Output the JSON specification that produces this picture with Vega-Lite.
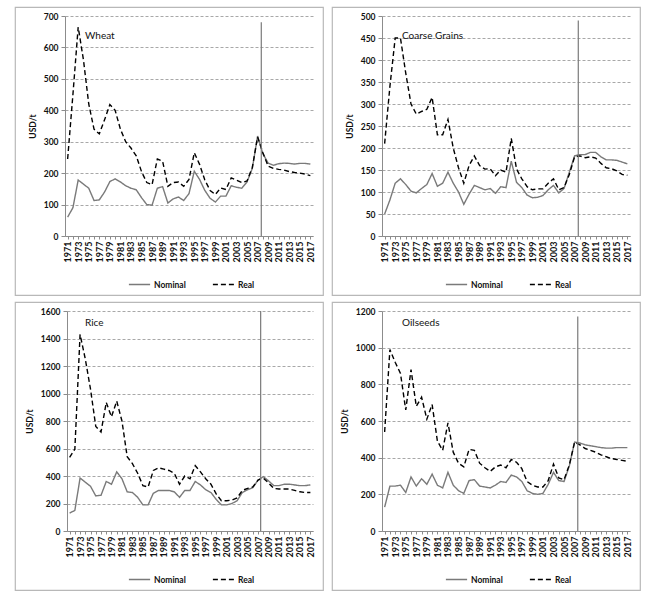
{
  "$schema": "https://vega.github.io/schema/vega-lite/v6.json",
  "padding": {"left": 14, "top": 6, "right": 4, "bottom": 4},
  "columns": 2,
  "spacing": {"row": 5, "column": 7},
  "resolve": {"scale": {"color": "independent", "strokeDash": "independent"}},
  "datasets": {
    "markers": [
      {"crop": "Wheat", "year": 2007.7, "lo": 0, "hi": 680},
      {"crop": "Coarse Grains", "year": 2007.7, "lo": 0, "hi": 490},
      {"crop": "Rice", "year": 2007.5, "lo": 0, "hi": 1600},
      {"crop": "Oilseeds", "year": 2007.6, "lo": 0, "hi": 1170}
    ],
    "prices": [
      {"crop": "Wheat", "year": 1971, "Nominal": 60, "Real": 245},
      {"crop": "Wheat", "year": 1972, "Nominal": 90, "Real": 450},
      {"crop": "Wheat", "year": 1973, "Nominal": 178, "Real": 665},
      {"crop": "Wheat", "year": 1974, "Nominal": 165, "Real": 560},
      {"crop": "Wheat", "year": 1975, "Nominal": 152, "Real": 420},
      {"crop": "Wheat", "year": 1976, "Nominal": 113, "Real": 340},
      {"crop": "Wheat", "year": 1977, "Nominal": 115, "Real": 325},
      {"crop": "Wheat", "year": 1978, "Nominal": 140, "Real": 370},
      {"crop": "Wheat", "year": 1979, "Nominal": 173, "Real": 418},
      {"crop": "Wheat", "year": 1980, "Nominal": 182, "Real": 400},
      {"crop": "Wheat", "year": 1981, "Nominal": 172, "Real": 340},
      {"crop": "Wheat", "year": 1982, "Nominal": 160, "Real": 300},
      {"crop": "Wheat", "year": 1983, "Nominal": 152, "Real": 280},
      {"crop": "Wheat", "year": 1984, "Nominal": 147, "Real": 255},
      {"crop": "Wheat", "year": 1985, "Nominal": 122, "Real": 205},
      {"crop": "Wheat", "year": 1986, "Nominal": 100, "Real": 170},
      {"crop": "Wheat", "year": 1987, "Nominal": 98, "Real": 163},
      {"crop": "Wheat", "year": 1988, "Nominal": 152, "Real": 245},
      {"crop": "Wheat", "year": 1989, "Nominal": 157, "Real": 238},
      {"crop": "Wheat", "year": 1990, "Nominal": 105, "Real": 158},
      {"crop": "Wheat", "year": 1991, "Nominal": 118, "Real": 170},
      {"crop": "Wheat", "year": 1992, "Nominal": 124, "Real": 172},
      {"crop": "Wheat", "year": 1993, "Nominal": 113, "Real": 158},
      {"crop": "Wheat", "year": 1994, "Nominal": 135, "Real": 180},
      {"crop": "Wheat", "year": 1995, "Nominal": 206, "Real": 265},
      {"crop": "Wheat", "year": 1996, "Nominal": 180, "Real": 228},
      {"crop": "Wheat", "year": 1997, "Nominal": 145, "Real": 178},
      {"crop": "Wheat", "year": 1998, "Nominal": 120, "Real": 145},
      {"crop": "Wheat", "year": 1999, "Nominal": 108, "Real": 132},
      {"crop": "Wheat", "year": 2000, "Nominal": 127, "Real": 153},
      {"crop": "Wheat", "year": 2001, "Nominal": 127, "Real": 148},
      {"crop": "Wheat", "year": 2002, "Nominal": 160, "Real": 185},
      {"crop": "Wheat", "year": 2003, "Nominal": 155, "Real": 178},
      {"crop": "Wheat", "year": 2004, "Nominal": 152, "Real": 170},
      {"crop": "Wheat", "year": 2005, "Nominal": 172, "Real": 175},
      {"crop": "Wheat", "year": 2006, "Nominal": 215, "Real": 218},
      {"crop": "Wheat", "year": 2007, "Nominal": 318, "Real": 315},
      {"crop": "Wheat", "year": 2008, "Nominal": 262, "Real": 265},
      {"crop": "Wheat", "year": 2009, "Nominal": 232, "Real": 222},
      {"crop": "Wheat", "year": 2010, "Nominal": 225, "Real": 215},
      {"crop": "Wheat", "year": 2011, "Nominal": 230, "Real": 212},
      {"crop": "Wheat", "year": 2012, "Nominal": 232, "Real": 210},
      {"crop": "Wheat", "year": 2013, "Nominal": 231, "Real": 205},
      {"crop": "Wheat", "year": 2014, "Nominal": 229, "Real": 202},
      {"crop": "Wheat", "year": 2015, "Nominal": 231, "Real": 200},
      {"crop": "Wheat", "year": 2016, "Nominal": 231, "Real": 197},
      {"crop": "Wheat", "year": 2017, "Nominal": 229, "Real": 192},
      {"crop": "Coarse Grains", "year": 1971, "Nominal": 50, "Real": 210},
      {"crop": "Coarse Grains", "year": 1972, "Nominal": 82, "Real": 340},
      {"crop": "Coarse Grains", "year": 1973, "Nominal": 120, "Real": 450},
      {"crop": "Coarse Grains", "year": 1974, "Nominal": 130, "Real": 450},
      {"crop": "Coarse Grains", "year": 1975, "Nominal": 117, "Real": 370},
      {"crop": "Coarse Grains", "year": 1976, "Nominal": 102, "Real": 300},
      {"crop": "Coarse Grains", "year": 1977, "Nominal": 98, "Real": 277},
      {"crop": "Coarse Grains", "year": 1978, "Nominal": 108, "Real": 283},
      {"crop": "Coarse Grains", "year": 1979, "Nominal": 117, "Real": 288},
      {"crop": "Coarse Grains", "year": 1980, "Nominal": 142, "Real": 315},
      {"crop": "Coarse Grains", "year": 1981, "Nominal": 113, "Real": 230},
      {"crop": "Coarse Grains", "year": 1982, "Nominal": 120, "Real": 230},
      {"crop": "Coarse Grains", "year": 1983, "Nominal": 145, "Real": 265},
      {"crop": "Coarse Grains", "year": 1984, "Nominal": 120, "Real": 200},
      {"crop": "Coarse Grains", "year": 1985, "Nominal": 100, "Real": 155},
      {"crop": "Coarse Grains", "year": 1986, "Nominal": 72, "Real": 120},
      {"crop": "Coarse Grains", "year": 1987, "Nominal": 95, "Real": 160},
      {"crop": "Coarse Grains", "year": 1988, "Nominal": 115, "Real": 182},
      {"crop": "Coarse Grains", "year": 1989, "Nominal": 110, "Real": 160},
      {"crop": "Coarse Grains", "year": 1990, "Nominal": 105, "Real": 152},
      {"crop": "Coarse Grains", "year": 1991, "Nominal": 108, "Real": 153},
      {"crop": "Coarse Grains", "year": 1992, "Nominal": 97, "Real": 137},
      {"crop": "Coarse Grains", "year": 1993, "Nominal": 112, "Real": 150},
      {"crop": "Coarse Grains", "year": 1994, "Nominal": 110, "Real": 145},
      {"crop": "Coarse Grains", "year": 1995, "Nominal": 170, "Real": 222},
      {"crop": "Coarse Grains", "year": 1996, "Nominal": 122, "Real": 152},
      {"crop": "Coarse Grains", "year": 1997, "Nominal": 110, "Real": 130},
      {"crop": "Coarse Grains", "year": 1998, "Nominal": 93, "Real": 112},
      {"crop": "Coarse Grains", "year": 1999, "Nominal": 87, "Real": 105},
      {"crop": "Coarse Grains", "year": 2000, "Nominal": 88, "Real": 107},
      {"crop": "Coarse Grains", "year": 2001, "Nominal": 92, "Real": 107},
      {"crop": "Coarse Grains", "year": 2002, "Nominal": 105, "Real": 120},
      {"crop": "Coarse Grains", "year": 2003, "Nominal": 115, "Real": 130},
      {"crop": "Coarse Grains", "year": 2004, "Nominal": 98, "Real": 105},
      {"crop": "Coarse Grains", "year": 2005, "Nominal": 108, "Real": 110},
      {"crop": "Coarse Grains", "year": 2006, "Nominal": 145, "Real": 140},
      {"crop": "Coarse Grains", "year": 2007, "Nominal": 182, "Real": 180},
      {"crop": "Coarse Grains", "year": 2008, "Nominal": 185, "Real": 182},
      {"crop": "Coarse Grains", "year": 2009, "Nominal": 185, "Real": 178},
      {"crop": "Coarse Grains", "year": 2010, "Nominal": 190, "Real": 180},
      {"crop": "Coarse Grains", "year": 2011, "Nominal": 190, "Real": 177},
      {"crop": "Coarse Grains", "year": 2012, "Nominal": 180, "Real": 165},
      {"crop": "Coarse Grains", "year": 2013, "Nominal": 173, "Real": 155},
      {"crop": "Coarse Grains", "year": 2014, "Nominal": 173, "Real": 153},
      {"crop": "Coarse Grains", "year": 2015, "Nominal": 172, "Real": 148},
      {"crop": "Coarse Grains", "year": 2016, "Nominal": 168, "Real": 140},
      {"crop": "Coarse Grains", "year": 2017, "Nominal": 164, "Real": 138},
      {"crop": "Rice", "year": 1971, "Nominal": 130, "Real": 535},
      {"crop": "Rice", "year": 1972, "Nominal": 150, "Real": 595},
      {"crop": "Rice", "year": 1973, "Nominal": 385, "Real": 1430},
      {"crop": "Rice", "year": 1974, "Nominal": 355, "Real": 1250},
      {"crop": "Rice", "year": 1975, "Nominal": 325, "Real": 1030},
      {"crop": "Rice", "year": 1976, "Nominal": 255, "Real": 760},
      {"crop": "Rice", "year": 1977, "Nominal": 260, "Real": 720},
      {"crop": "Rice", "year": 1978, "Nominal": 360, "Real": 935},
      {"crop": "Rice", "year": 1979, "Nominal": 340, "Real": 830},
      {"crop": "Rice", "year": 1980, "Nominal": 430, "Real": 945},
      {"crop": "Rice", "year": 1981, "Nominal": 380, "Real": 800},
      {"crop": "Rice", "year": 1982, "Nominal": 285, "Real": 540},
      {"crop": "Rice", "year": 1983, "Nominal": 280, "Real": 490},
      {"crop": "Rice", "year": 1984, "Nominal": 245, "Real": 420},
      {"crop": "Rice", "year": 1985, "Nominal": 190, "Real": 330},
      {"crop": "Rice", "year": 1986, "Nominal": 190, "Real": 320},
      {"crop": "Rice", "year": 1987, "Nominal": 275, "Real": 440},
      {"crop": "Rice", "year": 1988, "Nominal": 295, "Real": 460},
      {"crop": "Rice", "year": 1989, "Nominal": 295, "Real": 450},
      {"crop": "Rice", "year": 1990, "Nominal": 295, "Real": 440},
      {"crop": "Rice", "year": 1991, "Nominal": 285, "Real": 420},
      {"crop": "Rice", "year": 1992, "Nominal": 245, "Real": 340},
      {"crop": "Rice", "year": 1993, "Nominal": 295, "Real": 400},
      {"crop": "Rice", "year": 1994, "Nominal": 295, "Real": 380},
      {"crop": "Rice", "year": 1995, "Nominal": 360, "Real": 475},
      {"crop": "Rice", "year": 1996, "Nominal": 335, "Real": 430},
      {"crop": "Rice", "year": 1997, "Nominal": 300, "Real": 380},
      {"crop": "Rice", "year": 1998, "Nominal": 280, "Real": 340},
      {"crop": "Rice", "year": 1999, "Nominal": 230, "Real": 270},
      {"crop": "Rice", "year": 2000, "Nominal": 190, "Real": 220},
      {"crop": "Rice", "year": 2001, "Nominal": 190, "Real": 220},
      {"crop": "Rice", "year": 2002, "Nominal": 200, "Real": 225},
      {"crop": "Rice", "year": 2003, "Nominal": 220, "Real": 240},
      {"crop": "Rice", "year": 2004, "Nominal": 280, "Real": 295},
      {"crop": "Rice", "year": 2005, "Nominal": 300, "Real": 310},
      {"crop": "Rice", "year": 2006, "Nominal": 315, "Real": 320},
      {"crop": "Rice", "year": 2007, "Nominal": 370, "Real": 370},
      {"crop": "Rice", "year": 2008, "Nominal": 395, "Real": 385},
      {"crop": "Rice", "year": 2009, "Nominal": 365, "Real": 350},
      {"crop": "Rice", "year": 2010, "Nominal": 330, "Real": 310},
      {"crop": "Rice", "year": 2011, "Nominal": 330, "Real": 305},
      {"crop": "Rice", "year": 2012, "Nominal": 340, "Real": 305},
      {"crop": "Rice", "year": 2013, "Nominal": 340, "Real": 305},
      {"crop": "Rice", "year": 2014, "Nominal": 335, "Real": 295},
      {"crop": "Rice", "year": 2015, "Nominal": 330, "Real": 285},
      {"crop": "Rice", "year": 2016, "Nominal": 330, "Real": 280},
      {"crop": "Rice", "year": 2017, "Nominal": 335, "Real": 280},
      {"crop": "Oilseeds", "year": 1971, "Nominal": 130, "Real": 540},
      {"crop": "Oilseeds", "year": 1972, "Nominal": 245, "Real": 990},
      {"crop": "Oilseeds", "year": 1973, "Nominal": 245, "Real": 920},
      {"crop": "Oilseeds", "year": 1974, "Nominal": 250, "Real": 860},
      {"crop": "Oilseeds", "year": 1975, "Nominal": 210, "Real": 660},
      {"crop": "Oilseeds", "year": 1976, "Nominal": 295, "Real": 880},
      {"crop": "Oilseeds", "year": 1977, "Nominal": 245, "Real": 680},
      {"crop": "Oilseeds", "year": 1978, "Nominal": 285, "Real": 730},
      {"crop": "Oilseeds", "year": 1979, "Nominal": 255, "Real": 610},
      {"crop": "Oilseeds", "year": 1980, "Nominal": 310, "Real": 690},
      {"crop": "Oilseeds", "year": 1981, "Nominal": 250, "Real": 490},
      {"crop": "Oilseeds", "year": 1982, "Nominal": 235, "Real": 440},
      {"crop": "Oilseeds", "year": 1983, "Nominal": 320, "Real": 590},
      {"crop": "Oilseeds", "year": 1984, "Nominal": 250, "Real": 430},
      {"crop": "Oilseeds", "year": 1985, "Nominal": 220, "Real": 370},
      {"crop": "Oilseeds", "year": 1986, "Nominal": 205, "Real": 350},
      {"crop": "Oilseeds", "year": 1987, "Nominal": 275, "Real": 445},
      {"crop": "Oilseeds", "year": 1988, "Nominal": 280, "Real": 440},
      {"crop": "Oilseeds", "year": 1989, "Nominal": 245, "Real": 370},
      {"crop": "Oilseeds", "year": 1990, "Nominal": 240, "Real": 345},
      {"crop": "Oilseeds", "year": 1991, "Nominal": 235, "Real": 325},
      {"crop": "Oilseeds", "year": 1992, "Nominal": 250, "Real": 350},
      {"crop": "Oilseeds", "year": 1993, "Nominal": 270, "Real": 360},
      {"crop": "Oilseeds", "year": 1994, "Nominal": 265, "Real": 345},
      {"crop": "Oilseeds", "year": 1995, "Nominal": 305, "Real": 390},
      {"crop": "Oilseeds", "year": 1996, "Nominal": 295, "Real": 375},
      {"crop": "Oilseeds", "year": 1997, "Nominal": 270, "Real": 340},
      {"crop": "Oilseeds", "year": 1998, "Nominal": 220, "Real": 270},
      {"crop": "Oilseeds", "year": 1999, "Nominal": 205, "Real": 250},
      {"crop": "Oilseeds", "year": 2000, "Nominal": 200, "Real": 240},
      {"crop": "Oilseeds", "year": 2001, "Nominal": 205, "Real": 240},
      {"crop": "Oilseeds", "year": 2002, "Nominal": 255, "Real": 275},
      {"crop": "Oilseeds", "year": 2003, "Nominal": 320, "Real": 365},
      {"crop": "Oilseeds", "year": 2004, "Nominal": 275, "Real": 290},
      {"crop": "Oilseeds", "year": 2005, "Nominal": 270, "Real": 280},
      {"crop": "Oilseeds", "year": 2006, "Nominal": 355, "Real": 360},
      {"crop": "Oilseeds", "year": 2007, "Nominal": 485, "Real": 485},
      {"crop": "Oilseeds", "year": 2008, "Nominal": 480, "Real": 470},
      {"crop": "Oilseeds", "year": 2009, "Nominal": 470, "Real": 450},
      {"crop": "Oilseeds", "year": 2010, "Nominal": 465, "Real": 440},
      {"crop": "Oilseeds", "year": 2011, "Nominal": 460, "Real": 430},
      {"crop": "Oilseeds", "year": 2012, "Nominal": 455, "Real": 415},
      {"crop": "Oilseeds", "year": 2013, "Nominal": 452, "Real": 405},
      {"crop": "Oilseeds", "year": 2014, "Nominal": 452, "Real": 395},
      {"crop": "Oilseeds", "year": 2015, "Nominal": 455, "Real": 390},
      {"crop": "Oilseeds", "year": 2016, "Nominal": 455, "Real": 385},
      {"crop": "Oilseeds", "year": 2017, "Nominal": 455, "Real": 380}
    ]
  },
  "concat": [
    {
      "width": 308, "height": 288,
      "title": {"text": "Wheat", "dy": 38},
      "layer": [
        {
          "data": {"name": "prices"},
          "transform": [{"filter": "datum.crop == 'Wheat'"}, {"fold": ["Nominal", "Real"], "as": ["series", "value"]}],
          "mark": {"type": "line", "strokeWidth": 1.4},
          "encoding": {
            "x": {"field": "year", "type": "quantitative", "title": null, "scale": {"domain": [1970.5, 2017.5], "range": [50, 298], "nice": false, "zero": false},
                  "axis": {"offset": -59, "tickCount": 100, "labelOverlap": false, "values": [1971,1972,1973,1974,1975,1976,1977,1978,1979,1980,1981,1982,1983,1984,1985,1986,1987,1988,1989,1990,1991,1992,1993,1994,1995,1996,1997,1998,1999,2000,2001,2002,2003,2004,2005,2006,2007,2008,2009,2010,2011,2012,2013,2014,2015,2016,2017]}},
            "y": {"field": "value", "type": "quantitative", "title": "USD/t", "scale": {"domain": [0, 700], "range": [229, 9], "nice": false},
                  "axis": {"offset": -50, "tickCount": 100, "labelOverlap": false, "values": [0,100,200,300,400,500,600,700]}},
            "color": {"field": "series", "type": "nominal", "scale": {"domain": ["Nominal", "Real"], "range": ["#7a7a7a", "#000000"]},
                      "legend": {"title": null, "orient": "none", "legendX": 113, "legendY": 266, "direction": "horizontal"}},
            "strokeDash": {"field": "series", "type": "nominal", "scale": {"domain": ["Nominal", "Real"], "range": [[1, 0], [5, 3]]},
                      "legend": {"title": null, "orient": "none", "legendX": 113, "legendY": 266, "direction": "horizontal"}}
          }
        },
        {
          "data": {"name": "markers"},
          "transform": [{"filter": "datum.crop == 'Wheat'"}],
          "mark": {"type": "rule", "color": "#7a7a7a", "strokeWidth": 1.2},
          "encoding": {
            "x": {"field": "year", "type": "quantitative", "title": null},
            "y": {"field": "lo", "type": "quantitative", "title": "USD/t"},
            "y2": {"field": "hi"}
          }
        }
      ]
    },
    {
      "width": 308, "height": 288,
      "title": {"text": "Coarse Grains", "dy": 38},
      "layer": [
        {
          "data": {"name": "prices"},
          "transform": [{"filter": "datum.crop == 'Coarse Grains'"}, {"fold": ["Nominal", "Real"], "as": ["series", "value"]}],
          "mark": {"type": "line", "strokeWidth": 1.4},
          "encoding": {
            "x": {"field": "year", "type": "quantitative", "title": null, "scale": {"domain": [1970.5, 2017.5], "range": [50, 298], "nice": false, "zero": false},
                  "axis": {"offset": -59, "tickCount": 100, "labelOverlap": false, "values": [1971,1972,1973,1974,1975,1976,1977,1978,1979,1980,1981,1982,1983,1984,1985,1986,1987,1988,1989,1990,1991,1992,1993,1994,1995,1996,1997,1998,1999,2000,2001,2002,2003,2004,2005,2006,2007,2008,2009,2010,2011,2012,2013,2014,2015,2016,2017]}},
            "y": {"field": "value", "type": "quantitative", "title": "USD/t", "scale": {"domain": [0, 500], "range": [229, 9], "nice": false},
                  "axis": {"offset": -50, "tickCount": 100, "labelOverlap": false, "values": [0,50,100,150,200,250,300,350,400,450,500]}},
            "color": {"field": "series", "type": "nominal", "scale": {"domain": ["Nominal", "Real"], "range": ["#7a7a7a", "#000000"]},
                      "legend": {"title": null, "orient": "none", "legendX": 113, "legendY": 266, "direction": "horizontal"}},
            "strokeDash": {"field": "series", "type": "nominal", "scale": {"domain": ["Nominal", "Real"], "range": [[1, 0], [5, 3]]},
                      "legend": {"title": null, "orient": "none", "legendX": 113, "legendY": 266, "direction": "horizontal"}}
          }
        },
        {
          "data": {"name": "markers"},
          "transform": [{"filter": "datum.crop == 'Coarse Grains'"}],
          "mark": {"type": "rule", "color": "#7a7a7a", "strokeWidth": 1.2},
          "encoding": {
            "x": {"field": "year", "type": "quantitative", "title": null},
            "y": {"field": "lo", "type": "quantitative", "title": "USD/t"},
            "y2": {"field": "hi"}
          }
        }
      ]
    },
    {
      "width": 308, "height": 288,
      "title": {"text": "Rice", "dy": 30},
      "layer": [
        {
          "data": {"name": "prices"},
          "transform": [{"filter": "datum.crop == 'Rice'"}, {"fold": ["Nominal", "Real"], "as": ["series", "value"]}],
          "mark": {"type": "line", "strokeWidth": 1.4},
          "encoding": {
            "x": {"field": "year", "type": "quantitative", "title": null, "scale": {"domain": [1970.5, 2017.5], "range": [52, 298], "nice": false, "zero": false},
                  "axis": {"offset": -59, "tickCount": 100, "labelOverlap": false, "values": [1971,1972,1973,1974,1975,1976,1977,1978,1979,1980,1981,1982,1983,1984,1985,1986,1987,1988,1989,1990,1991,1992,1993,1994,1995,1996,1997,1998,1999,2000,2001,2002,2003,2004,2005,2006,2007,2008,2009,2010,2011,2012,2013,2014,2015,2016,2017]}},
            "y": {"field": "value", "type": "quantitative", "title": "USD/t", "scale": {"domain": [0, 1600], "range": [229, 9], "nice": false},
                  "axis": {"offset": -52, "tickCount": 100, "labelOverlap": false, "values": [0,200,400,600,800,1000,1200,1400,1600]}},
            "color": {"field": "series", "type": "nominal", "scale": {"domain": ["Nominal", "Real"], "range": ["#7a7a7a", "#000000"]},
                      "legend": {"title": null, "orient": "none", "legendX": 113, "legendY": 266, "direction": "horizontal"}},
            "strokeDash": {"field": "series", "type": "nominal", "scale": {"domain": ["Nominal", "Real"], "range": [[1, 0], [5, 3]]},
                      "legend": {"title": null, "orient": "none", "legendX": 113, "legendY": 266, "direction": "horizontal"}}
          }
        },
        {
          "data": {"name": "markers"},
          "transform": [{"filter": "datum.crop == 'Rice'"}],
          "mark": {"type": "rule", "color": "#7a7a7a", "strokeWidth": 1.2},
          "encoding": {
            "x": {"field": "year", "type": "quantitative", "title": null},
            "y": {"field": "lo", "type": "quantitative", "title": "USD/t"},
            "y2": {"field": "hi"}
          }
        }
      ]
    },
    {
      "width": 308, "height": 288,
      "title": {"text": "Oilseeds", "dy": 30},
      "layer": [
        {
          "data": {"name": "prices"},
          "transform": [{"filter": "datum.crop == 'Oilseeds'"}, {"fold": ["Nominal", "Real"], "as": ["series", "value"]}],
          "mark": {"type": "line", "strokeWidth": 1.4},
          "encoding": {
            "x": {"field": "year", "type": "quantitative", "title": null, "scale": {"domain": [1970.5, 2017.5], "range": [50, 298], "nice": false, "zero": false},
                  "axis": {"offset": -59, "tickCount": 100, "labelOverlap": false, "values": [1971,1972,1973,1974,1975,1976,1977,1978,1979,1980,1981,1982,1983,1984,1985,1986,1987,1988,1989,1990,1991,1992,1993,1994,1995,1996,1997,1998,1999,2000,2001,2002,2003,2004,2005,2006,2007,2008,2009,2010,2011,2012,2013,2014,2015,2016,2017]}},
            "y": {"field": "value", "type": "quantitative", "title": "USD/t", "scale": {"domain": [0, 1200], "range": [229, 9], "nice": false},
                  "axis": {"offset": -50, "tickCount": 100, "labelOverlap": false, "values": [0,200,400,600,800,1000,1200]}},
            "color": {"field": "series", "type": "nominal", "scale": {"domain": ["Nominal", "Real"], "range": ["#7a7a7a", "#000000"]},
                      "legend": {"title": null, "orient": "none", "legendX": 113, "legendY": 266, "direction": "horizontal"}},
            "strokeDash": {"field": "series", "type": "nominal", "scale": {"domain": ["Nominal", "Real"], "range": [[1, 0], [5, 3]]},
                      "legend": {"title": null, "orient": "none", "legendX": 113, "legendY": 266, "direction": "horizontal"}}
          }
        },
        {
          "data": {"name": "markers"},
          "transform": [{"filter": "datum.crop == 'Oilseeds'"}],
          "mark": {"type": "rule", "color": "#7a7a7a", "strokeWidth": 1.2},
          "encoding": {
            "x": {"field": "year", "type": "quantitative", "title": null},
            "y": {"field": "lo", "type": "quantitative", "title": "USD/t"},
            "y2": {"field": "hi"}
          }
        }
      ]
    }
  ],
  "config": {
    "font": "Lato",
    "background": "#ffffff",
    "view": {"stroke": "#b8b8b8", "strokeWidth": 1.2},
    "axis": {
      "labelFont": "Lato", "labelFontSize": 8.5, "labelColor": "#111111", "labelOverlap": false, "labelFontWeight": "bold",
      "domainColor": "#8c8c8c", "tickColor": "#8c8c8c",
      "titleFont": "Lato", "titleFontSize": 8.5, "titleColor": "#111111", "titleFontWeight": "bold"
    },
    "axisX": {
      "format": "d", "labelExpr": "datum.value % 2 == 1 ? datum.label : ''", "labelFontSize": 9,
      "labelAngle": -90, "labelOverlap": false, "labelFlush": false, "labelBound": false,
      "tickSize": 3, "labelPadding": 2, "grid": false
    },
    "axisY": {
      "format": "d", "grid": true, "gridDash": [3, 2], "gridColor": "#a8a8a8",
      "tickSize": 4, "labelPadding": 3, "labelFlush": false, "titlePadding": 6
    },
    "legend": {
      "symbolType": "stroke", "symbolSize": 450, "symbolStrokeWidth": 1.4,
      "labelFont": "Lato", "labelFontSize": 8.5, "labelColor": "#111111", "labelFontWeight": "bold",
      "columnPadding": 24, "labelOffset": 3
    },
    "title": {
      "fontSize": 10, "fontWeight": "normal", "font": "Lato", "color": "#111111",
      "anchor": "start", "frame": "group", "offset": 0, "dx": 70, "baseline": "middle"
    }
  }
}
